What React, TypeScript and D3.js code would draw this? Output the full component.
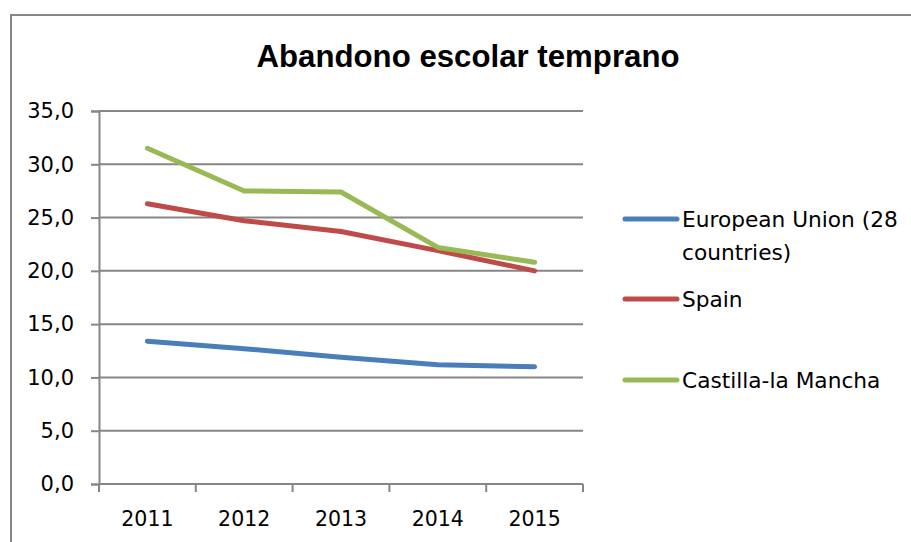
import * as d3 from "d3";
import { useRef, useEffect } from "react";

const width = 911;
const height = 542;
const marginTop = 111;
const marginLeft = 99;
const plotRight = 583;
const plotBottom = 484;

const years = ["2011", "2012", "2013", "2014", "2015"];
const euValues = [13.4, 12.7, 11.9, 11.2, 11.0];
const spainValues = [26.3, 24.7, 23.7, 21.9, 20.0];
const castillaValues = [31.5, 27.5, 27.4, 22.2, 20.8];
const yTicks = [0, 5, 10, 15, 20, 25, 30, 35];

const series = [
  { name: ["European Union (28", "countries)"], values: euValues, color: "#4a7ebb" },
  { name: ["Spain"], values: spainValues, color: "#be4b48" },
  { name: ["Castilla-la Mancha"], values: castillaValues, color: "#98b954" },
];

const legendY = [219, 299, 380];

const gridColor = "#868686";
const labelFont = "'DejaVu Sans', sans-serif";

const App = () => {
  const gx = useRef<SVGGElement>(null);
  const gy = useRef<SVGGElement>(null);

  const x = d3.scaleBand().domain(years).range([marginLeft, plotRight]);
  const y = d3.scaleLinear().domain([0, 35]).range([plotBottom, marginTop]);

  useEffect(() => {
    const gxSel = d3.select(gx.current!);
    const gySel = d3.select(gy.current!);

    gySel
      .call(
        d3
          .axisLeft(y)
          .tickValues(yTicks)
          .tickSize(8)
          .tickPadding(17)
          .tickFormat((d) => d3.format(".1f")(d as number).replace(".", ","))
      )
      .call((g) => g.select(".domain").attr("stroke", gridColor).attr("stroke-width", 2))
      .call((g) => g.selectAll(".tick line").attr("stroke", gridColor).attr("stroke-width", 2))
      .call((g) =>
        g
          .selectAll(".tick text")
          .attr("fill", "#000")
          .attr("font-family", labelFont)
          .attr("font-size", 21)
      );

    // x axis: ticks on category boundaries, labels centred
    gxSel.append("line")
      .attr("x1", marginLeft)
      .attr("x2", plotRight)
      .attr("stroke", gridColor)
      .attr("stroke-width", 2);
    const bounds = years.map((d) => x(d) as number).concat([plotRight]);
    gxSel
      .selectAll("line.tk")
      .data(bounds)
      .join("line")
      .attr("class", "tk")
      .attr("x1", (d) => d)
      .attr("x2", (d) => d)
      .attr("y1", 0)
      .attr("y2", 8)
      .attr("stroke", gridColor)
      .attr("stroke-width", 2);
    gxSel
      .selectAll("text")
      .data(years)
      .join("text")
      .attr("x", (d) => (x(d) as number) + x.bandwidth() / 2)
      .attr("y", 42)
      .attr("text-anchor", "middle")
      .attr("font-family", labelFont)
      .attr("font-size", 20.5)
      .attr("fill", "#000")
      .text((d) => d);

    return () => {
      gxSel.selectAll("*").remove();
      gySel.selectAll("*").remove();
    };
  }, []);

  const line = d3
    .line<number>()
    .x((_, i) => (x(years[i]) as number) + x.bandwidth() / 2)
    .y((d) => y(d));

  return (
    <svg
      width={width}
      height={height}
      viewBox={`0 0 ${width} ${height}`}
      style={{ position: "absolute", left: 0, top: 0, background: "#fff" }}
    >
      <rect x={11} y={15} width={width} height={height} fill="#fff" stroke={gridColor} strokeWidth={2} />
      <text
        x={468}
        y={67}
        textAnchor="middle"
        fontFamily="'Liberation Sans', Arial, sans-serif"
        fontWeight="bold"
        fontSize={32}
        textLength={423}
        lengthAdjust="spacingAndGlyphs"
      >
        Abandono escolar temprano
      </text>

      {yTicks.slice(1).map((t) => (
        <line
          key={t}
          x1={marginLeft}
          x2={plotRight}
          y1={y(t)}
          y2={y(t)}
          stroke={gridColor}
          strokeWidth={2}
        />
      ))}

      <g ref={gy} transform={`translate(${marginLeft}, 0)`} />
      <g ref={gx} transform={`translate(0, ${plotBottom})`} />

      {series.map((s) => (
        <path
          key={s.color}
          d={line(s.values) as string}
          fill="none"
          stroke={s.color}
          strokeWidth={5}
          strokeLinejoin="round"
          strokeLinecap="round"
        />
      ))}

      {series.map((s, i) => (
        <g key={s.color} transform={`translate(0, ${legendY[i]})`}>
          <line x1={625} x2={677} stroke={s.color} strokeWidth={5} strokeLinecap="round" />
          {s.name.map((n, j) => (
            <text
              key={n}
              x={682}
              y={j * 33 + 8}
              fontFamily={labelFont}
              fontSize={21.7}
              fill="#000"
            >
              {n}
            </text>
          ))}
        </g>
      ))}
    </svg>
  );
};

export default App;
